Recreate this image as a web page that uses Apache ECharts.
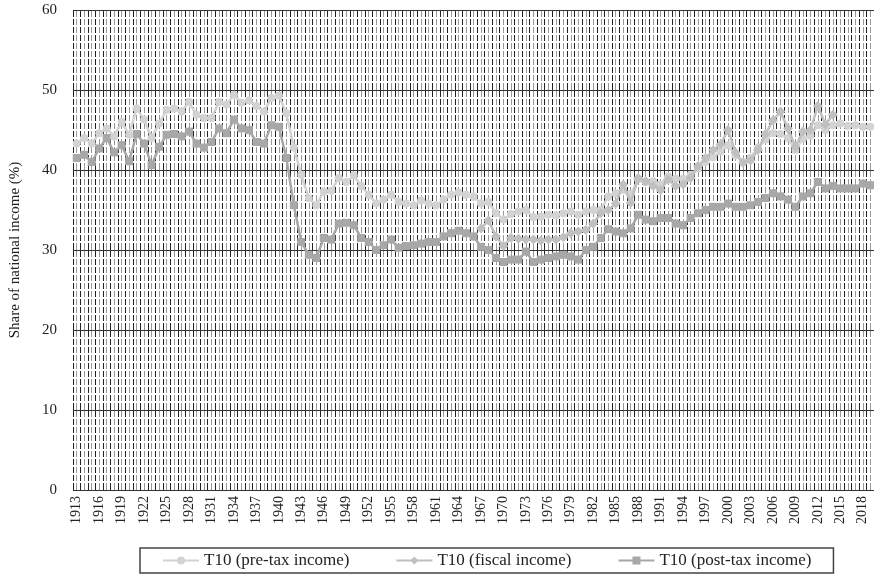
<!DOCTYPE html>
<html>
<head>
  <meta charset="UTF-8">
  <title>T10 shares</title>
  <script type="text/javascript" src="https://cdn.jsdelivr.net/npm/echarts@6.0.0/dist/echarts.min.js"></script>
  <style type="text/css">
    *{ margin: 0; padding: 0; }
    body{ background: #fff; }
    #main{ width: 874px; height: 578px; }
  </style>
</head>
<body>
  <div id="main"></div>
  <script type="text/javascript">
    // years 1913 - 2019
    var years = [];
    for (var y = 1913; y <= 2019; y++) years.push(String(y));

    var yTicks = [0, 10, 20, 30, 40, 50, 60];

    var preTax = [
      43.3, 44.0, 43.3, 44.6, 45.2, 44.2, 46.0, 44.4, 47.7, 46.3,
      44.0, 45.8, 47.5, 47.7, 47.3, 48.5, 46.9, 46.5, 46.5, 48.5,
      48.2, 49.4, 48.4, 48.7, 48.0, 47.3, 49.0, 49.3, 47.1, 42.8,
      39.4, 36.5, 35.6, 37.3, 37.4, 39.0, 38.5, 39.3, 38.0, 36.9,
      35.8, 36.3, 36.9, 36.0, 35.8, 35.6, 36.2, 35.8, 35.6, 36.3,
      36.9, 37.2, 36.9, 36.7, 35.8, 36.0, 34.6, 33.8, 34.5, 34.8,
      35.0, 34.1, 34.2, 34.4, 34.3, 34.6, 34.8, 34.4, 34.8, 35.0,
      35.0, 36.7, 37.1, 37.5, 37.0, 38.8, 38.5, 38.6, 38.2, 39.2,
      38.9, 38.9, 39.4, 40.2, 41.0, 41.6, 42.3, 43.1, 41.8, 41.0,
      41.5, 42.8, 43.8, 44.6, 44.5, 44.0, 42.5, 43.9, 44.3, 45.6,
      45.0, 45.6, 45.8, 45.5, 45.6, 45.4, 45.4
    ];

    // fiscal income: 1967 - 2014 only
    var fiscalStart = 1967;
    var fiscalVals = [
      32.7, 33.7, 31.7, 30.5, 31.5, 31.4, 31.3, 31.3, 31.2, 31.3,
      31.3, 31.6, 32.1, 32.3, 32.5, 33.3, 34.6, 35.0, 35.8, 38.2,
      35.9, 39.0, 38.6, 38.0, 37.5, 38.8, 38.0, 38.2, 39.0, 40.5,
      41.5, 42.5, 43.2, 45.0, 42.2, 40.9, 41.2, 42.5, 44.5, 46.2,
      47.3, 45.2, 42.9, 44.8, 45.0, 48.0, 45.7, 46.9
    ];

    var postTax = [
      41.5, 41.9, 41.0, 42.7, 44.0, 42.2, 43.1, 41.1, 44.5, 43.3,
      40.6, 42.9, 44.4, 44.5, 44.2, 44.8, 43.3, 42.8, 43.5, 45.2,
      44.6, 46.3, 45.2, 45.0, 43.5, 43.3, 45.6, 45.4, 41.5, 35.6,
      31.0, 29.4, 29.0, 31.5, 31.3, 33.3, 33.4, 33.1, 31.5, 31.0,
      30.0, 30.6, 31.3, 30.3, 30.5, 30.6, 30.8, 31.0, 31.0, 31.7,
      32.1, 32.4, 32.1, 31.7, 30.4, 30.0, 29.0, 28.5, 28.8, 28.8,
      29.8, 28.5, 28.8, 29.0, 29.2, 29.4, 29.2, 28.8, 30.0, 30.4,
      31.5, 32.6, 32.3, 32.1, 32.7, 34.4, 33.8, 33.6, 34.0, 34.0,
      33.3, 33.1, 34.0, 34.6, 35.0, 35.4, 35.4, 35.8, 35.4, 35.4,
      35.6, 36.0, 36.5, 37.1, 36.7, 36.3, 35.4, 36.7, 37.1, 38.5,
      37.7, 38.0, 37.7, 37.7, 37.7, 38.3, 38.1
    ];

    // put fiscal values on the full year axis
    var fiscal = years.map(function(yr){
      var i = Number(yr) - fiscalStart;
      return (i >= 0 && i < fiscalVals.length) ? fiscalVals[i] : null;
    });

    var serif = '"Liberation Serif", "DejaVu Serif", serif';

    var myChart = echarts.init(document.getElementById('main'));
    var option = {
      animation: false,
      color: ['#d3d3d3', '#c0c0c0', '#a8a8a8'],
      textStyle: { fontFamily: serif },
      grid: { left: 72, right: 0, top: 10, bottom: 88 },
      legend: {
        bottom: 5, left: 140,
        padding: [4, 22],
        itemGap: 46, itemWidth: 36, itemHeight: 10,
        borderColor: '#444', borderWidth: 1.5,
        textStyle: { fontFamily: serif, fontSize: 17, color: '#222' },
        data: ['T10 (pre-tax income)', 'T10 (fiscal income)', 'T10 (post-tax income)']
      },
      xAxis: [{
        type: 'category', data: years, boundaryGap: true,
        axisLine: { lineStyle: { color: '#ccc' } },
        axisTick: { show: false },
        axisLabel: { interval: 2, rotate: 90, fontSize: 14, color: '#222', margin: 6 },
        splitLine: { show: false }
      }, {
        // thin vertical grid, two lines per year
        type: 'value', position: 'top', min: 0, max: years.length * 2, interval: 1,
        axisLine: { show: false }, axisTick: { show: false }, axisLabel: { show: false },
        splitLine: { show: true, lineStyle: { color: ['#222', '#999'], width: 1 } }
      }],
      yAxis: {
        type: 'value', min: yTicks[0], max: yTicks[yTicks.length - 1], interval: 10, z: 1,
        name: 'Share of national income (%)', nameLocation: 'middle', nameGap: 50,
        nameTextStyle: { fontFamily: serif, fontSize: 15, color: '#222' },
        axisLine: { show: false }, axisTick: { show: false },
        axisLabel: { fontSize: 15, color: '#222', margin: 16 },
        splitLine: { lineStyle: { color: '#333', width: 1.2 } },
        minorTick: { show: false, splitNumber: 10 },
        minorSplitLine: { show: true, lineStyle: { color: '#fff', width: 2 } }
      },
      series: [
        { name: 'T10 (pre-tax income)', type: 'line', data: preTax, symbol: 'circle', symbolSize: 8,
          showAllSymbol: true, lineStyle: { width: 2.5 }, z: 3 },
        { name: 'T10 (fiscal income)', type: 'line', data: fiscal, symbol: 'diamond', symbolSize: 10,
          showAllSymbol: true, lineStyle: { width: 2.5 }, z: 4 },
        { name: 'T10 (post-tax income)', type: 'line', data: postTax, symbol: 'rect', symbolSize: 8,
          showAllSymbol: true, lineStyle: { width: 2.5 }, z: 2 }
      ]
    };
    myChart.setOption(option);
  </script>
</body>
</html>
